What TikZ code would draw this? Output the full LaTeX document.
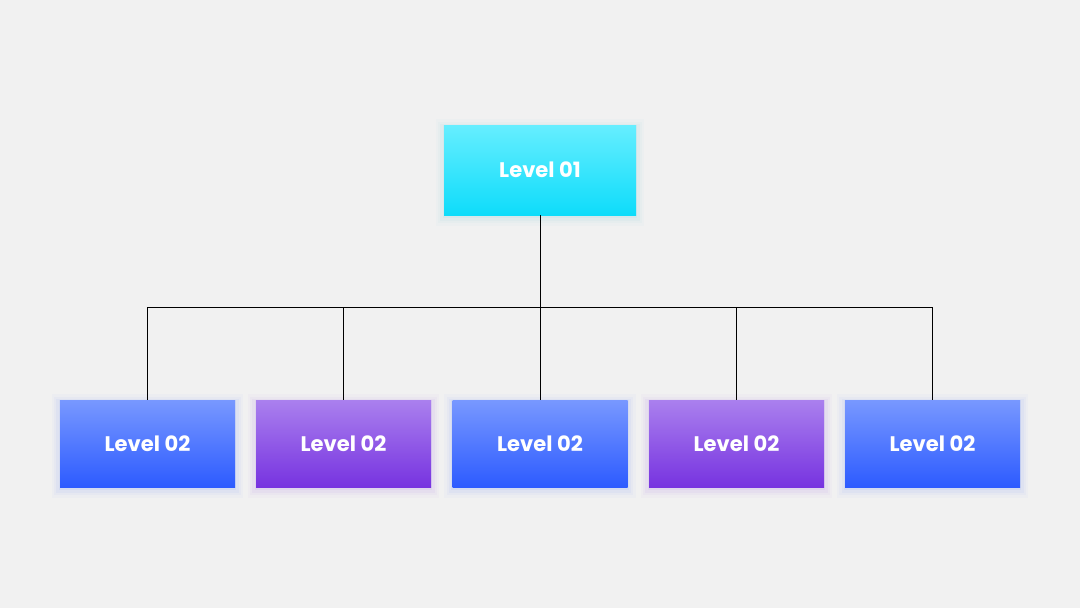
\documentclass[tikz,border=0pt]{standalone}
\usepackage{fontspec}
\setmainfont{Poppins}
\definecolor{bgGray}{HTML}{F1F1F1}
\definecolor{cyanTop}{HTML}{66EEFF}
\definecolor{cyanBot}{HTML}{0EDCFA}
\definecolor{blueTop}{HTML}{7898FF}
\definecolor{blueBot}{HTML}{2D5BFF}
\definecolor{purpTop}{HTML}{AA80EE}
\definecolor{purpBot}{HTML}{7733E0}

\begin{document}
\begin{tikzpicture}[every node/.style={rectangle,text=white,font=\fontsize{15}{18}\selectfont\bfseries},
  glow/.style={preaction={draw=#1,draw opacity=.025,line width=12pt,transform canvas={yshift=-2pt}},
    preaction={draw=#1,draw opacity=.03,line width=8pt,transform canvas={yshift=-2pt}},
    preaction={draw=#1,draw opacity=.04,line width=5pt,transform canvas={yshift=-1.5pt}},
    preaction={draw=#1,draw opacity=.05,line width=2pt,transform canvas={yshift=-1pt}}},
  lvlone/.style={minimum width=4.8cm,minimum height=2.25cm,glow=cyanBot!60!gray,top color=cyanTop,bottom color=cyanBot},
  lvlblue/.style={minimum width=4.375cm,minimum height=2.175cm,glow=blueBot,top color=blueTop,bottom color=blueBot},
  lvlpurp/.style={minimum width=4.375cm,minimum height=2.175cm,glow=purpBot,top color=purpTop,bottom color=purpBot}]
\fill[bgGray] (0,0) rectangle (27,15.2);
\useasboundingbox (0,0) rectangle (27,15.2);
\node[lvlone] at(13.5,10.95)(top){Level 01};
\node[lvlblue] at(3.6875,4.1125)(b1){Level 02};
\node[lvlpurp] at(8.5875,4.1125)(b2){Level 02};
\node[lvlblue] at(13.5,4.1125)  (b3){Level 02};
\node[lvlpurp] at(18.4125,4.1125)(b4){Level 02};
\node[lvlblue] at(23.3125,4.1125)(b5){Level 02};
\coordinate (bar) at (13.5,7.525);
\draw[line width=0.6pt](top)--(bar);
\foreach \b in {b1,b2,b3,b4,b5}
  \draw[line width=0.6pt](\b.north)|-(bar);
\end{tikzpicture}
\end{document}
